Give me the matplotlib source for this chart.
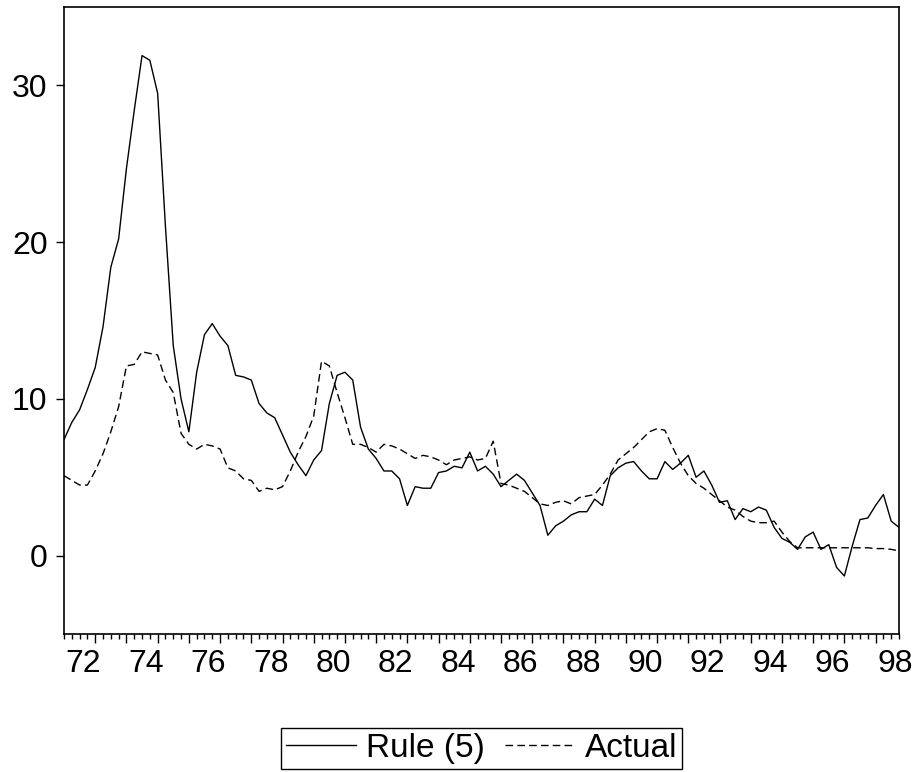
import numpy as np
import matplotlib
matplotlib.use("Agg")
import matplotlib.pyplot as plt

plt.rcParams["font.family"] = ["Liberation Sans", "DejaVu Sans"]

# quarterly observations, 1972Q1 .. 1998Q4
FIRST_YEAR = 1972
LAST_YEAR = 1998

rule5 = [
    7.4, 8.5, 9.3, 10.6, 12.0, 14.6, 18.4, 20.2,      # 72-73
    24.7, 28.4, 31.9, 31.6, 29.5, 21.0, 13.4, 10.0,   # 74-75
    7.9, 11.7, 14.1, 14.8, 14.0, 13.4, 11.5, 11.4,    # 76-77
    11.2, 9.7, 9.1, 8.8, 7.7, 6.6, 5.8, 5.1,          # 78-79
    6.1, 6.7, 9.7, 11.5, 11.7, 11.2, 8.2, 6.8,        # 80-81
    6.2, 5.4, 5.4, 4.9, 3.2, 4.4, 4.3, 4.3,           # 82-83
    5.3, 5.4, 5.7, 5.6, 6.6, 5.4, 5.7, 5.2,           # 84-85
    4.4, 4.8, 5.2, 4.8, 4.0, 3.2, 1.3, 1.9,           # 86-87
    2.2, 2.6, 2.8, 2.8, 3.6, 3.2, 5.1, 5.6,           # 88-89
    5.9, 6.0, 5.4, 4.9, 4.9, 6.0, 5.5, 5.9,           # 90-91
    6.4, 5.0, 5.4, 4.5, 3.4, 3.5, 2.3, 3.0,           # 92-93
    2.8, 3.1, 2.9, 1.8, 1.1, 0.85, 0.4, 1.2,          # 94-95
    1.5, 0.4, 0.7, -0.75, -1.3, 0.6, 2.3, 2.4,        # 96-97
    3.2, 3.9, 2.2, 1.8,                               # 98
]

actual = [
    5.1, 4.8, 4.5, 4.5, 5.4, 6.5, 7.9, 9.5,
    12.1, 12.2, 13.0, 12.9, 12.8, 11.2, 10.4, 7.8,
    7.1, 6.8, 7.1, 7.0, 6.8, 5.6, 5.4, 4.9,
    4.8, 4.1, 4.3, 4.2, 4.4, 5.4, 6.6, 7.6,
    8.9, 12.4, 12.1, 10.4, 8.8, 7.1, 7.1, 6.9,
    6.6, 7.1, 7.0, 6.8, 6.5, 6.2, 6.4, 6.3,
    6.1, 5.8, 6.1, 6.2, 6.3, 6.1, 6.2, 7.3,
    4.6, 4.5, 4.3, 4.1, 3.7, 3.3, 3.2, 3.4,
    3.5, 3.3, 3.7, 3.8, 3.9, 4.5, 5.2, 6.1,
    6.5, 6.9, 7.4, 7.9, 8.1, 8.0, 6.9, 5.9,
    5.1, 4.6, 4.3, 3.9, 3.5, 3.1, 2.9, 2.5,
    2.2, 2.1, 2.1, 2.2, 1.5, 0.9, 0.5, 0.5,
    0.5, 0.5, 0.5, 0.5, 0.5, 0.5, 0.5, 0.5,
    0.45, 0.45, 0.4, 0.3,
]

y_ticks = [0, 10, 20, 30]
year_labels = ["%02d" % (y % 100) for y in range(FIRST_YEAR, LAST_YEAR + 1, 2)]


def rule_plot(rule, act):
    n = len(rule)
    q = np.arange(n)

    fig = plt.figure(figsize=(9.18, 7.72), dpi=100)
    ax = fig.add_axes([64 / 918, 1 - 634 / 772, 835 / 918, 627 / 772])

    ax.plot(q, rule, color="black", lw=1.0, label="Rule (5)")
    ax.plot(q, act, color="black", lw=1.0, dashes=(5.5, 3), label="Actual")

    ax.set_xlim(0, n - 1)
    ax.set_ylim(-5, 35)

    for side in ax.spines.values():
        side.set_linewidth(1.2)

    ax.set_yticks(y_ticks)
    ax.tick_params(axis="y", direction="out", length=5.8, width=1.0,
                   labelsize=23, pad=6)

    # long ticks at year boundaries, short ticks every quarter
    ax.set_xticks(np.arange(4, n, 4))
    ax.set_xticks(q, minor=True)
    ax.tick_params(axis="x", which="major", direction="out", length=6.2,
                   width=1.0, labelbottom=False)
    ax.tick_params(axis="x", which="minor", direction="out", length=3.8,
                   width=1.0)

    # year labels sit in the middle of every other year
    lab = ax.secondary_xaxis("bottom")
    lab.set_xticks(np.arange(2.5, n, 8), year_labels)
    lab.tick_params(length=0, labelsize=23, pad=11)
    lab.spines["bottom"].set_visible(False)

    leg = fig.legend(loc="center", bbox_to_anchor=(0.5245, 0.0304), ncol=2,
                     fontsize=24, handlelength=2.1, handletextpad=0.3,
                     columnspacing=0.6, borderpad=0.15, borderaxespad=0.0,
                     fancybox=False, framealpha=1.0, edgecolor="black")
    leg.get_frame().set_linewidth(1.0)
    return fig


fig = rule_plot(rule5, actual)
fig.savefig("out.png", dpi=100)
